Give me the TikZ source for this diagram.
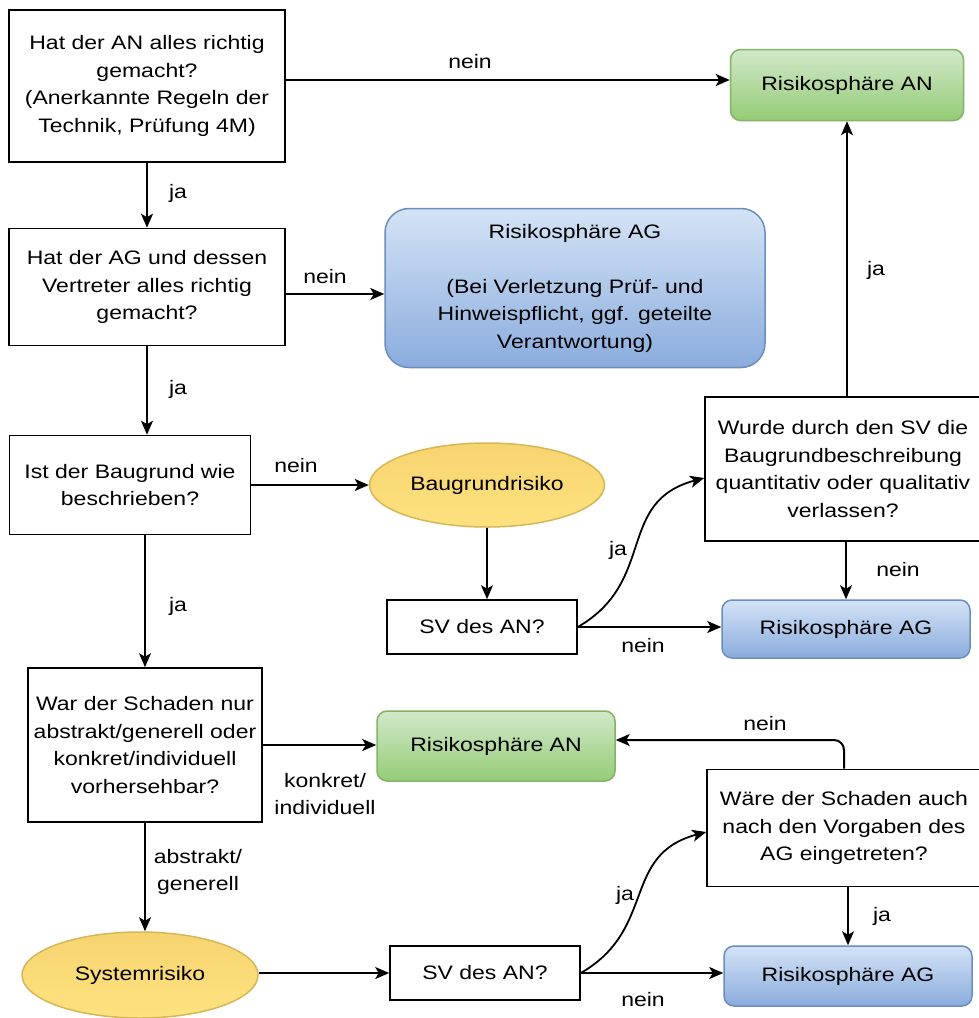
\documentclass[tikz,border=0pt]{standalone}
\usepackage{fontspec}
\setmainfont[FakeStretch=1.18]{Liberation Sans}
\usetikzlibrary{shapes.geometric,arrows.meta}
\definecolor{gruenrand}{RGB}{130,179,102}
\definecolor{gruenoben}{RGB}{210,232,202}
\definecolor{gruenunten}{RGB}{148,204,118}
\definecolor{blaurand}{RGB}{108,142,191}
\definecolor{blauoben}{RGB}{212,227,246}
\definecolor{blauunten}{RGB}{138,172,221}
\definecolor{gelbrand}{RGB}{214,182,86}
\definecolor{gelboben}{RGB}{247,212,112}
\definecolor{gelbunten}{RGB}{254,226,128}

\begin{document}
\begin{tikzpicture}
[every node/.style={inner sep=0pt, align=center, font=\fontsize{19.5pt}{27.5pt}\selectfont},
 frage/.style={rectangle, draw=black, line width=1.6pt, fill=white},
 gruen/.style={rectangle, rounded corners=10pt, draw=gruenrand, line width=1.5pt, top color=gruenoben, bottom color=gruenunten},
 blau/.style={rectangle, rounded corners=10pt, draw=blaurand, line width=1.5pt, top color=blauoben, bottom color=blauunten},
 gelb/.style={ellipse, draw=gelbrand, line width=1.5pt, top color=gelboben, bottom color=gelbunten},
 >={Stealth[length=14pt, width=12pt, inset=3.5pt]}]
\useasboundingbox (0pt, 0pt) rectangle (979pt, -1018pt);
\node (1) [frage, minimum width=276pt, minimum height=152pt] at (147pt, -86pt) {Hat der AN alles richtig\\gemacht?\\(Anerkannte Regeln der\\Technik, Prüfung 4M)};
\node (2) [gruen, minimum width=233pt, minimum height=71pt] at (847pt, -85pt) {Risikosphäre AN};
\node (3) [frage, minimum width=276pt, minimum height=117pt] at (147pt, -287pt) {Hat der AG und dessen\\Vertreter alles richtig\\gemacht?};
\node (4) [blau, rounded corners=24pt, minimum width=380pt, minimum height=159pt] at (575pt, -288pt) {Risikosphäre AG\\[27.5pt](Bei Verletzung Prüf- und\\Hinweispflicht, ggf. geteilte\\Verantwortung)};
\node (5) [frage, minimum width=241pt, minimum height=99pt] at (130pt, -485pt) {Ist der Baugrund wie\\beschrieben?};
\node (6) [gelb, minimum width=235pt, minimum height=84pt] at (487pt, -485pt) {Baugrundrisiko};
\node (7) [frage, minimum width=190pt, minimum height=54pt] at (482pt, -627pt) {SV des AN?};
\node (8) [frage, minimum width=276pt, minimum height=144pt] at (843pt, -469pt) {Wurde durch den SV die\\Baugrundbeschreibung\\quantitativ oder qualitativ\\verlassen?};
\node (9) [blau, minimum width=248pt, minimum height=58pt] at (846pt, -629pt) {Risikosphäre AG};
\node (10) [frage, minimum width=234pt, minimum height=154pt] at (145pt, -745pt) {War der Schaden nur\\abstrakt/generell oder\\konkret/individuell\\vorhersehbar?};
\node (11) [gruen, minimum width=238pt, minimum height=70pt] at (496pt, -746pt) {Risikosphäre AN};
\node (12) [frage, minimum width=274pt, minimum height=117pt] at (844pt, -828pt) {Wäre der Schaden auch\\nach den Vorgaben des\\AG eingetreten?};
\node (13) [gelb, minimum width=236pt, minimum height=86pt] at (140pt, -975pt) {Systemrisiko};
\node (14) [frage, minimum width=190pt, minimum height=54pt] at (485pt, -973pt) {SV des AN?};
\node (15) [blau, minimum width=248pt, minimum height=60pt] at (848pt, -976pt) {Risikosphäre AG};
\node (n1) at (470pt, -62pt) {nein};
\node (j1) at (178pt, -193pt) {ja};
\node (n2) at (325pt, -277pt) {nein};
\node (j2) at (178pt, -389pt) {ja};
\node (n3) at (296pt, -466pt) {nein};
\node (j3) at (178pt, -606pt) {ja};
\node (j4) at (876pt, -270pt) {ja};
\node (j5) at (618pt, -550pt) {ja};
\node (n4) at (898pt, -570pt) {nein};
\node (n5) at (643pt, -646pt) {nein};
\node (k1) at (325pt, -794pt) {konkret/\\individuell};
\node (n6) at (765pt, -724pt) {nein};
\node (a1) at (198pt, -872pt) {abstrakt/\\generell};
\node (j6) at (625pt, -895pt) {ja};
\node (j7) at (882pt, -916pt) {ja};
\node (n7) at (643pt, -1000pt) {nein};
\draw [line width=2pt, ->, color=black] ([yshift=6pt]1.east) to ([yshift=6pt]1.east -| 2.west);
\draw [line width=1.5pt, ->, color=black] (1.south) to (3.north);
\draw [line width=2pt, ->, color=black] ([yshift=-7pt]3.east) to ([yshift=-7pt]3.east -| 4.west);
\draw [line width=1.5pt, ->, color=black] (3.south) to (3.south |- 5.north);
\draw [line width=2pt, ->, color=black] (5.east) to (6.west);
\draw [line width=1.5pt, ->, color=black] (10.north |- 5.south) to (10.north);
\draw [line width=1.5pt, ->, color=black] (6.south) to (6.south |- 7.north);
\draw [line width=2pt, ->, color=black] (7.east) to (7.east -| 9.west);
\draw [line width=1.8pt, ->, color=black] (7.east) to [out=30, in=195, looseness=1.2] ([yshift=-9pt]8.west);
\draw [line width=1.5pt, ->, color=black] (2.south |- 8.north) to (2.south);
\draw [line width=1.5pt, ->, color=black] (9.north |- 8.south) to (9.north);
\draw [line width=2pt, ->, color=black] (10.east) to (10.east -| 11.west);
\draw [line width=2pt, ->, color=black, rounded corners=10pt] (12.north) |- ([yshift=6pt]11.east);
\draw [line width=1.5pt, ->, color=black] (10.south) to (10.south |- 13.north);
\draw [line width=2pt, ->, color=black] (14.west -| 13.east) to (14.west);
\draw [line width=2pt, ->, color=black] (14.east) to (14.east -| 15.west);
\draw [line width=1.8pt, ->, color=black] (14.east) to [out=30, in=195, looseness=1.2] ([yshift=-4pt]12.west);
\draw [line width=1.5pt, ->, color=black] (15.north |- 12.south) to (15.north);
\end{tikzpicture}
\end{document}
